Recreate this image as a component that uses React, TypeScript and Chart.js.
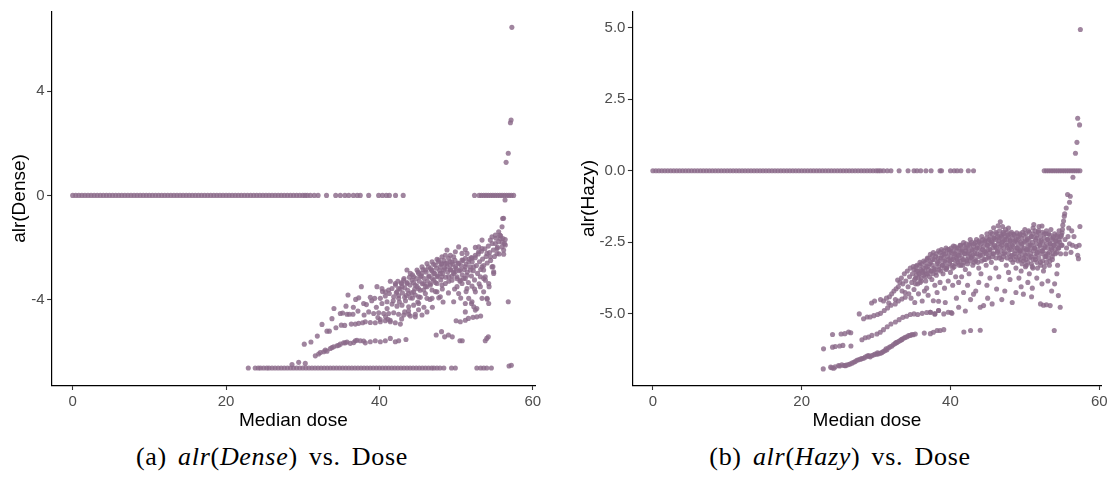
import React, { useEffect, useRef } from "react";
import { Chart, registerables } from "chart.js";
Chart.register(...registerables);

// ---------- tick labels ----------
const X_TICKS = [0, 20, 40, 60];
const DENSE_Y_TICKS = [-4, 0, 4];
const HAZY_Y_TICKS = [-5, -2.5, 0, 2.5, 5];

// ---------- (a) alr(Dense) ----------
const denseZeroDose = [
  0, 0.4, 0.8, 1.2, 1.6, 2, 2.4, 2.8, 3.2, 3.6, 4, 4.4, 4.8, 5.2, 5.6, 6, 6.4, 6.8, 7.2, 7.6,
  8, 8.4, 8.8, 9.2, 9.6, 10, 10.4, 10.8, 11.2, 11.6, 12, 12.4, 12.8, 13.2, 13.6, 14, 14.4, 14.8,
  15.2, 15.6, 16, 16.4, 16.8, 17.2, 17.6, 18, 18.4, 18.8, 19.2, 19.6, 20, 20.4, 20.8, 21.2, 21.6,
  22, 22.4, 22.8, 23.2, 23.6, 24, 24.4, 24.8, 25.2, 25.6, 26, 26.4, 26.8, 27.2, 27.6, 28, 28.4,
  28.8, 29.2, 29.6, 30, 30.3, 30.6, 31.0, 31.5, 32.0, 33.1, 34.3, 34.9, 35.5, 36.0, 36.6, 37.1,
  37.5, 38.6, 39.9, 40.4, 40.9, 41.3, 42.1, 43.1, 52.4, 53.0, 53.3, 53.6, 53.9, 54.2, 54.5, 54.8,
  55.1, 55.4, 55.7, 56.0, 56.3, 56.6, 56.9, 57.2, 57.5,
];
const DENSE_FLOOR = -6.64;
const denseFloorDose = [
  22.9, 23.8, 24.2, 24.5, 24.9, 25.3, 25.6, 26.0, 26.4, 26.8, 27.2, 27.6, 28, 28.4, 28.8, 29.2,
  29.6, 30, 30.4, 30.8, 31.2, 31.6, 32, 32.4, 32.8, 33.2, 33.6, 34, 34.4, 34.8, 35.2, 35.6, 36,
  36.4, 36.8, 37.2, 37.6, 38, 38.4, 38.8, 39.2, 39.6, 40, 40.4, 40.8, 41.2, 41.6, 42, 42.4, 42.8,
  43.2, 43.6, 44, 44.4, 44.8, 45.2, 45.6, 46, 46.4, 46.8, 47.1, 47.5, 47.9, 48.4, 49.4, 49.9,
  52.7, 53.2, 53.6, 54.0, 54.6,
];
const denseCloud: [number, number][] = [
  [37.64, -3.51], [35.9, -3.83], [37.3, -3.94], [37.94, -4.16], [34.07, -4.35], [35.64, -4.26],
  [34.9, -4.54], [35.77, -4.57], [36.07, -4.57], [36.55, -4.57], [33.81, -4.74], [32.51, -4.96],
  [33.16, -5.22], [33.47, -5.22], [34.33, -5.09], [35.03, -4.99], [35.47, -5.0], [36.33, -4.95],
  [36.86, -4.95], [37.29, -4.92], [37.81, -4.9], [31.9, -5.41], [30.2, -5.72], [31.07, -5.64],
  [31.64, -6.17], [32.07, -6.1], [32.29, -6.04], [32.73, -6.01], [32.94, -5.95], [33.16, -5.99],
  [33.6, -5.89], [33.81, -5.85], [34.03, -5.82], [34.47, -5.78], [34.68, -5.76], [34.9, -5.72],
  [35.33, -5.67], [35.55, -5.67], [35.77, -5.64], [36.2, -5.69], [36.64, -5.66], [36.86, -5.59],
  [37.07, -5.57], [37.51, -5.59], [37.94, -5.6],
  [28.6, -6.5], [29.47, -6.42], [30.33, -6.46], [56.9, -6.56], [57.2, -6.53],
  [38.16, -5.67], [38.81, -5.63], [39.46, -5.59], [40.12, -5.63], [40.77, -5.59], [41.42, -5.5],
  [42.07, -5.63], [42.51, -5.59], [43.46, -5.54], [47.4, -5.37], [48.1, -5.24], [48.5, -5.44],
  [49.0, -5.37], [49.5, -5.44], [50.5, -5.59], [50.8, -5.59], [53.8, -5.59], [54.2, -5.44],
  [54.0, -5.5],
  [38.16, -4.86], [38.81, -4.89], [39.46, -4.9], [40.12, -4.86], [40.77, -4.82], [41.42, -4.86],
  [42.07, -4.9], [42.73, -4.95], [41.1, -4.76], [40.8, -4.67], [41.4, -4.8], [40.1, -4.77],
  [38.6, -4.48], [39.25, -4.54], [39.9, -4.51], [40.55, -4.54], [41.2, -4.54], [41.86, -4.51],
  [42.5, -4.57], [43.16, -4.6], [44.03, -4.64], [44.68, -4.57],
  [50.0, -4.82], [50.55, -4.86], [51.2, -4.8], [51.6, -4.73], [52.2, -4.69], [52.7, -4.67],
  [53.2, -4.64], [51.2, -4.48], [52.0, -4.16], [52.3, -4.28], [52.7, -4.35],
  [39.68, -3.51], [41.42, -3.3], [42.86, -3.36],
  [38.81, -3.92], [39.38, -3.96], [40.12, -3.96], [40.77, -3.87], [41.29, -3.77], [41.86, -3.9],
  [42.51, -3.96], [43.29, -3.92], [44.03, -3.94], [44.68, -3.83], [45.33, -3.92], [46.2, -3.96],
  [46.86, -3.96], [47.73, -3.94],
  [40.33, -4.16], [40.99, -4.09], [41.64, -4.18], [42.29, -4.26], [42.94, -4.22], [43.81, -4.28],
  [44.46, -4.22], [45.12, -4.16], [46.2, -4.48], [45.55, -4.6], [44.68, -4.67], [43.81, -4.57],
  [43.29, -4.48],
  [42.94, -3.51], [43.59, -3.39], [44.25, -3.26], [44.68, -3.45], [45.12, -3.58], [45.77, -3.64],
  [46.2, -3.51], [46.64, -3.39], [47.07, -3.26], [47.51, -3.13], [47.94, -3.0], [48.38, -2.87],
  [48.81, -2.75], [49.25, -2.87], [49.68, -3.0], [50.12, -3.13], [50.55, -3.26], [50.99, -3.19],
  [51.42, -3.07], [51.86, -2.87], [52.29, -2.75], [43.81, -3.77], [44.46, -3.71], [45.12, -3.9],
  [45.77, -3.39], [46.42, -3.13], [46.86, -2.87], [47.29, -2.68], [47.73, -2.49], [48.16, -2.36],
  [48.6, -2.3], [49.03, -2.42], [49.46, -2.55], [49.9, -2.75], [50.33, -2.62], [50.77, -2.49],
  [51.2, -2.42], [51.64, -2.55], [52.07, -2.42], [52.51, -2.3], [52.94, -2.17], [53.38, -2.04],
  [48.6, -2.62], [49.25, -2.68], [48.16, -3.13], [47.51, -3.39], [46.86, -3.64], [45.99, -3.77],
  [45.33, -3.13], [44.9, -2.87], [45.55, -2.75], [46.2, -2.62], [46.86, -2.55], [47.51, -2.46],
  [48.16, -2.62], [49.68, -2.36], [50.55, -2.87], [51.2, -2.75], [50.12, -3.51], [50.77, -3.39],
  [51.42, -3.58], [52.07, -3.49], [52.51, -3.71], [53.16, -3.51], [53.38, -2.75], [53.59, -2.87],
  [53.16, -3.13], [53.81, -3.26], [54.25, -3.39], [54.68, -2.75], [54.9, -3.0], [54.46, -2.36],
  [54.03, -2.23], [55.12, -1.85], [55.33, -2.04], [55.55, -1.78], [54.68, -1.59], [54.46, -1.72],
  [55.12, -1.53], [55.55, -1.4], [55.99, -1.21], [56.07, -0.89], [55.77, -1.66], [55.33, -2.23],
  [55.99, -1.98], [56.42, -1.91], [53.38, -1.72], [52.94, -1.98], [52.51, -2.0], [51.99, -2.39],
  [51.42, -2.23], [48.81, -2.1], [49.9, -2.17], [49.25, -2.3], [50.77, -2.23], [50.33, -1.98],
  [51.2, -2.08], [47.94, -2.75], [47.07, -3.0], [46.64, -2.81], [45.99, -2.87], [45.55, -3.0],
  [45.12, -3.0], [44.46, -3.13], [44.03, -3.0], [43.59, -2.87], [43.16, -3.26], [42.51, -3.58],
  [42.07, -3.39], [42.29, -3.71], [41.64, -3.58], [41.2, -3.64], [40.77, -3.71], [40.33, -3.58],
  [48.6, -3.39], [49.46, -3.26], [49.9, -2.94], [49.03, -3.13], [48.16, -3.45], [47.94, -3.9],
  [47.51, -3.71], [50.33, -3.77], [49.68, -4.09], [51.2, -4.16], [51.64, -3.96], [52.07, -4.09],
  [52.51, -4.41], [53.38, -3.96], [53.59, -3.71], [54.03, -3.96], [54.25, -4.16],
  [56.8, -4.09], [54.8, -2.74], [54.9, -2.94], [54.05, -3.99], [54.3, -3.51], [53.8, -3.13],
  [56.2, -2.26], [56.3, -1.85], [56.1, -1.66], [55.7, -1.53],
  [57.27, 6.46], [57.08, 2.79], [57.17, 2.9], [56.8, 1.62], [56.52, 1.27], [56.38, -0.18], [56.19, -0.88],
];
const denseCore: [number, number][] = [
  [42.1, -3.45], [42.2, -3.75], [42.4, -3.3], [42.5, -3.85], [42.7, -3.6], [42.9, -3.4],
  [43.0, -3.75], [43.2, -3.2], [43.3, -3.55], [43.5, -3.85], [43.6, -3.35], [43.7, -3.65],
  [43.9, -3.15], [44.0, -3.45], [44.2, -3.75], [44.3, -3.05], [44.45, -3.35], [44.6, -3.6],
  [44.8, -3.2], [44.9, -3.5], [45.05, -2.95], [45.2, -3.3], [45.3, -3.65], [45.45, -3.1],
  [45.6, -3.4], [45.7, -2.85], [45.85, -3.2], [46.0, -3.5], [46.1, -2.95], [46.25, -3.3],
  [46.4, -2.75], [46.5, -3.1], [46.65, -3.45], [46.8, -2.9], [46.9, -3.2], [47.05, -2.65],
  [47.2, -3.0], [47.3, -3.35], [47.45, -2.8], [47.6, -3.1], [47.7, -2.55], [47.85, -2.9],
  [48.0, -3.25], [48.1, -2.65], [48.25, -3.0], [48.4, -2.5], [48.5, -2.8], [48.65, -3.15],
  [48.8, -2.6], [48.9, -2.95], [49.05, -3.3], [49.2, -2.55], [49.3, -2.85], [49.45, -3.1],
  [49.6, -2.65], [49.7, -2.95], [49.85, -2.5], [50.0, -2.8], [50.1, -3.2], [50.25, -2.6],
  [50.4, -2.9], [50.5, -3.3], [50.65, -2.7], [50.8, -3.05], [50.9, -2.5], [51.05, -2.85],
  [51.2, -3.2], [51.3, -2.65], [51.45, -2.95], [51.6, -3.35], [51.7, -2.45], [51.85, -2.75],
  [52.0, -3.1], [52.1, -2.55], [52.25, -2.9], [52.4, -3.25], [52.5, -2.4], [52.65, -2.7],
  [52.8, -3.0], [52.9, -2.25], [53.05, -2.55], [53.2, -2.85], [53.3, -2.15], [53.45, -2.45],
  [53.6, -2.7], [53.75, -2.05], [53.9, -2.35], [54.05, -2.6], [54.2, -1.95], [54.35, -2.2],
  [54.5, -2.5], [54.7, -1.85], [54.85, -2.1], [55.0, -2.35], [55.2, -1.65], [55.4, -2.0],
  [55.6, -2.25], [55.8, -1.55], [56.0, -1.8], [56.2, -2.1], [56.4, -1.7],
  [38.3, -4.2], [39.0, -4.05], [39.6, -4.3], [40.4, -3.7], [41.0, -4.35], [41.8, -4.05],
  [42.6, -4.1], [43.4, -4.05], [44.3, -3.95], [45.0, -4.1], [45.8, -4.3], [46.6, -4.0],
  [47.3, -3.7], [48.2, -3.6], [49.0, -3.75], [49.8, -3.6], [50.6, -3.95], [51.3, -3.7],
  [52.4, -3.6], [53.0, -3.4], [53.6, -3.2], [36.6, -4.3], [37.2, -4.45], [38.0, -4.6],
  [36.9, -4.0], [35.2, -4.52], [39.8, -4.7], [42.9, -4.75], [43.8, -4.45], [45.1, -4.4],
  [46.9, -4.3], [48.3, -4.1],
];

// ---------- (b) alr(Hazy) ----------
const hazyZeroDose = [
  0, 0.4, 0.8, 1.2, 1.6, 2, 2.4, 2.8, 3.2, 3.6, 4, 4.4, 4.8, 5.2, 5.6, 6, 6.4, 6.8, 7.2, 7.6,
  8, 8.4, 8.8, 9.2, 9.6, 10, 10.4, 10.8, 11.2, 11.6, 12, 12.4, 12.8, 13.2, 13.6, 14, 14.4, 14.8,
  15.2, 15.6, 16, 16.4, 16.8, 17.2, 17.6, 18, 18.4, 18.8, 19.2, 19.6, 20, 20.4, 20.8, 21.2, 21.6,
  22, 22.4, 22.8, 23.2, 23.6, 24, 24.4, 24.8, 25.2, 25.6, 26, 26.4, 26.8, 27.2, 27.6, 28, 28.4,
  28.8, 29.2, 29.6, 30, 30.3, 30.6, 31.0, 31.5, 32.0, 33.1, 34.3, 35.1, 35.5, 36.0, 36.7, 37.4,
  38.6, 38.8, 40.0, 40.5, 40.9, 41.4, 42.4, 43.1, 52.6, 52.9, 53.2, 53.5, 53.8, 54.1, 54.4, 54.7,
  55.0, 55.3, 55.6, 55.9, 56.2, 56.5, 56.8, 57.1, 57.4,
];
const hazyCloud: [number, number][] = [
  // lowest band
  [22.9, -6.92], [23.9, -6.86], [24.06, -6.88], [24.3, -6.9], [24.5, -6.85], [24.96, -6.8],
  [25.1, -6.82], [25.4, -6.78], [25.7, -6.8], [25.86, -6.81], [26.0, -6.79], [26.3, -6.77],
  [26.5, -6.75], [26.75, -6.72], [27.0, -6.69], [27.2, -6.66], [27.42, -6.62], [27.65, -6.6],
  [27.9, -6.58], [28.1, -6.56], [28.32, -6.55], [28.54, -6.51], [28.8, -6.47], [28.99, -6.48],
  [29.0, -6.45], [29.22, -6.5], [29.44, -6.45], [29.7, -6.43], [29.89, -6.4], [30.11, -6.41],
  [30.2, -6.36], [30.34, -6.39], [30.6, -6.37], [30.79, -6.35], [31.0, -6.31], [31.23, -6.28],
  [31.35, -6.22], [31.46, -6.25], [31.68, -6.18], [31.9, -6.15], [32.13, -6.12], [32.35, -6.07],
  [32.58, -6.03], [32.7, -6.0], [32.8, -6.0], [33.03, -5.96], [33.25, -5.93], [33.4, -5.9],
  [33.47, -5.89], [33.7, -5.85], [33.92, -5.82], [34.15, -5.8], [34.37, -5.76], [34.6, -5.75],
  [34.82, -5.72], [35.0, -5.73], [35.27, -5.7], [36.48, -5.67], [37.3, -5.69], [37.7, -5.64],
  [38.2, -5.58], [38.6, -5.58], [39.1, -5.55], [41.8, -5.63], [42.7, -5.58], [44.0, -5.57],
  [53.95, -5.58],
  // second band
  [22.94, -6.22], [24.15, -6.16], [24.51, -6.14], [25.1, -6.12], [25.54, -6.1], [26.62, -6.12],
  [28.1, -5.9], [28.54, -5.83], [28.99, -5.81], [29.44, -5.75], [30.11, -5.7], [30.56, -5.64],
  [31.0, -5.55], [31.5, -5.45], [32.0, -5.35], [32.6, -5.28], [33.1, -5.2], [33.6, -5.12],
  [34.1, -5.08], [34.6, -5.02], [35.1, -5.0], [35.6, -5.02], [36.2, -4.98], [36.8, -4.95],
  [37.3, -4.94], [37.9, -5.0], [38.4, -4.88], [39.1, -5.0], [39.7, -4.94], [40.1, -4.95],
  [40.2, -4.98], [41.1, -4.77], [42.0, -4.9],
  // third band
  [24.15, -5.72], [25.3, -5.7], [25.8, -5.69], [26.3, -5.63], [26.6, -5.66], [27.74, -5.0],
  [28.32, -5.17], [28.8, -5.11], [29.2, -5.11], [29.7, -5.06], [30.2, -5.02], [30.6, -4.98],
  [31.1, -4.88], [31.55, -4.79], [32.0, -4.7], [32.58, -4.65], [33.0, -4.55], [33.47, -4.48],
  [33.92, -4.42], [34.4, -4.3],
  // main cloud
  [31.0, -4.55], [31.4, -4.45], [31.8, -4.4], [32.1, -4.3], [32.4, -4.2], [32.7, -4.12],
  [33.0, -4.05], [33.2, -3.9], [32.9, -3.82], [33.4, -3.75], [32.6, -4.5], [31.7, -4.62],
  [33.5, -4.2], [29.4, -4.62], [29.8, -4.55], [30.6, -4.5],
  [33.6, -3.95], [33.8, -3.6], [34.0, -3.85], [34.2, -3.5], [34.3, -4.05], [34.5, -3.7],
  [34.6, -3.4], [34.8, -3.9], [34.9, -3.6], [35.0, -3.35], [35.1, -4.15], [33.9, -4.25],
  [34.7, -4.45], [35.2, -4.6],
  [35.3, -3.75], [35.4, -3.5], [35.5, -3.3], [35.6, -3.95], [35.8, -3.6], [35.9, -3.2],
  [36.0, -3.45], [36.1, -3.85], [36.3, -3.55], [36.4, -3.15], [36.5, -4.2], [36.6, -3.7],
  [36.7, -3.35], [36.9, -3.05], [37.0, -3.6], [35.7, -4.3], [36.2, -4.55], [36.8, -4.1],
  [37.2, -3.25], [37.3, -2.92], [37.4, -3.5], [37.5, -3.8], [37.6, -3.1], [37.7, -2.86],
  [37.8, -3.4], [37.9, -4.0], [38.0, -3.0], [38.1, -3.65], [38.3, -3.2], [38.4, -2.8],
  [38.5, -3.45], [38.6, -3.9], [38.7, -3.05], [38.8, -2.75], [38.9, -3.3], [39.0, -3.6],
  [37.7, -4.54], [38.4, -4.56], [39.3, -4.6], [37.9, -5.0], [37.3, -4.94], [38.4, -4.88],
  [39.1, -2.9], [39.2, -3.15], [39.4, -2.7], [39.5, -3.4], [39.6, -3.0], [39.8, -2.75],
  [39.9, -3.25], [40.0, -3.55], [40.1, -2.85], [40.2, -3.1], [40.4, -2.63], [40.5, -3.35],
  [40.6, -2.9], [40.7, -3.7], [40.8, -3.05], [40.9, -2.7], [41.0, -3.2], [40.3, -4.0],
  [39.7, -3.85], [41.1, -3.9],
  [41.2, -2.95], [41.3, -2.6], [41.4, -3.3], [41.5, -2.8], [41.7, -3.1], [41.76, -2.51],
  [41.9, -2.9], [42.0, -3.45], [42.1, -2.7], [42.2, -3.15], [42.4, -2.85], [42.5, -3.6],
  [42.6, -2.55], [42.66, -2.4], [42.8, -3.0], [42.9, -2.75], [43.0, -3.3], [41.76, -4.25],
  [43.1, -4.31], [42.3, -4.0], [41.5, -3.7],
  [43.2, -2.55], [43.3, -2.9], [43.4, -3.15], [43.5, -2.4], [43.6, -2.7], [43.8, -3.4],
  [43.9, -2.5], [44.0, -2.95], [44.1, -3.6], [44.2, -2.3], [44.3, -2.75], [44.5, -3.1],
  [44.6, -2.45], [44.7, -2.85], [44.8, -3.3], [44.9, -2.2], [45.0, -2.6], [44.45, -4.71],
  [44.0, -4.77], [43.8, -3.9], [44.9, -4.0],
  [45.1, -3.0], [45.2, -2.4], [45.3, -2.75], [45.4, -2.15], [45.5, -3.2], [45.6, -2.5],
  [45.7, -2.9], [45.8, -1.99], [45.9, -2.35], [46.0, -2.65], [46.1, -3.4], [46.2, -2.2],
  [46.3, -2.8], [46.4, -1.92], [46.5, -2.45], [46.6, -3.05], [46.7, -1.78], [46.8, -2.3],
  [46.9, -2.6], [47.0, -1.95], [45.6, -4.65], [46.2, -4.13], [45.3, -3.75], [46.5, -3.7],
  [47.1, -2.15], [47.2, -2.9], [47.3, -2.4], [47.4, -2.05], [47.5, -3.3], [47.6, -2.6],
  [47.7, -2.25], [47.8, -2.0], [47.9, -2.75], [48.0, -2.45], [48.1, -3.1], [48.2, -2.15],
  [48.3, -2.6], [48.5, -2.22], [48.6, -2.9], [48.7, -2.45], [48.8, -3.4], [48.9, -2.17],
  [49.0, -2.7], [47.3, -4.2], [48.0, -3.8], [48.8, -4.25], [47.8, -3.55],
  [49.1, -2.4], [49.2, -3.0], [49.3, -2.25], [49.4, -2.8], [49.5, -3.5], [49.6, -2.55],
  [49.7, -2.15], [49.8, -3.15], [49.9, -2.7], [50.0, -2.05], [50.1, -2.95], [50.2, -3.3],
  [50.3, -2.4], [50.4, -2.75], [50.5, -2.1], [50.6, -3.6], [50.7, -2.6], [50.8, -3.0],
  [50.9, -2.3], [51.0, -3.35], [49.8, -4.31], [50.4, -3.9], [49.2, -3.75], [51.0, -4.1],
  [51.1, -2.0], [51.2, -1.88], [51.3, -2.7], [51.4, -3.1], [51.5, -2.35], [51.6, -2.9],
  [51.7, -3.4], [51.8, -2.15], [51.9, -1.95], [52.0, -2.6], [52.1, -3.2], [52.2, -2.45],
  [52.3, -1.93], [52.4, -2.8], [52.5, -3.5], [52.6, -2.2], [52.7, -2.65], [52.8, -3.0],
  [52.9, -2.1], [53.0, -2.4], [52.1, -4.65], [52.5, -4.7], [52.9, -4.68], [53.4, -4.71],
  [52.3, -3.95], [51.6, -3.75], [53.1, -3.85],
  [53.1, -2.9], [53.2, -2.2], [53.3, -3.3], [53.4, -2.55], [53.5, -2.05], [53.6, -2.75],
  [53.7, -3.1], [53.8, -2.35], [53.9, -2.6], [54.0, -2.2], [54.1, -2.9], [54.2, -2.45],
  [54.3, -3.6], [54.4, -2.3], [54.5, -2.7], [54.6, -2.1], [54.7, -2.5], [54.8, -2.9],
  [54.9, -2.25], [55.0, -2.6], [54.5, -4.36], [54.75, -4.77], [54.0, -3.95], [54.4, -3.3],
  [55.0, -2.17], [55.05, -2.05], [55.1, -1.9], [55.2, -1.76], [55.3, -1.59], [55.35, -1.5],
  [55.56, -1.3], [56.0, -1.1], [55.74, -0.83], [56.1, -0.89], [56.46, -0.23],
  [55.4, -2.4], [55.6, -2.7], [55.8, -2.3], [56.0, -2.55], [56.2, -2.85], [56.4, -2.6],
  [56.6, -2.3], [56.9, -2.65], [57.4, -1.95], [57.3, -2.6], [57.1, -2.95], [57.2, -3.07],
  [55.9, -2.0], [56.3, -2.1], [55.5, -2.9],
  [57.46, 4.93], [57.1, 1.83], [57.35, 1.6], [57.0, 0.99], [56.8, 0.61],
];
const hazyCore: [number, number][] = [
  [35.1, -3.45], [35.18, -3.8], [35.35, -3.35], [35.42, -3.65], [35.3, -3.95], [35.6, -3.5],
  [35.68, -3.75], [35.85, -3.3], [35.8, -3.6], [35.92, -3.9], [36.1, -3.25], [36.18, -3.5],
  [36.05, -3.75], [36.35, -3.4], [36.42, -3.65], [36.6, -3.2], [36.55, -3.5], [36.68, -3.85],
  [36.85, -3.1], [36.92, -3.35], [36.8, -3.6], [37.1, -3.05], [37.05, -3.45], [37.18, -3.7],
  [37.35, -3.2], [37.42, -3.5], [37.6, -2.95], [37.55, -3.3], [37.68, -3.6], [37.85, -3.1],
  [37.92, -3.45], [38.1, -2.9], [38.18, -3.25], [38.05, -3.55], [38.35, -3.05], [38.42, -3.35],
  [38.6, -2.85], [38.55, -3.15], [38.68, -3.5], [38.85, -2.95], [38.92, -3.3], [39.1, -2.8],
  [39.05, -3.05], [39.18, -3.4], [39.35, -2.9], [39.3, -3.2], [39.42, -3.45], [39.6, -2.75],
  [39.68, -3.1], [39.55, -3.35], [39.85, -2.85], [39.92, -3.15], [40.1, -2.7], [40.05, -3.0],
  [40.18, -3.3], [40.35, -2.8], [40.42, -3.1], [40.3, -3.4], [40.6, -2.65], [40.55, -2.95],
  [40.68, -3.25], [40.85, -2.8], [40.92, -3.1], [41.1, -2.7], [41.05, -2.95], [41.18, -3.3],
  [41.35, -2.6], [41.42, -2.85], [41.3, -3.15], [41.6, -2.75], [41.55, -3.05], [41.68, -3.3],
  [41.85, -2.6], [41.92, -2.9], [41.8, -3.2], [42.1, -2.55], [42.05, -2.8], [42.18, -3.1],
  [42.35, -2.7], [42.42, -3.0], [42.3, -3.25], [42.6, -2.6], [42.55, -2.9], [42.68, -3.15],
  [42.85, -2.5], [42.92, -2.8], [42.8, -3.05], [43.1, -2.65], [43.05, -2.95], [43.18, -3.2],
  [43.35, -2.5], [43.42, -2.75], [43.3, -3.1], [43.6, -2.6], [43.55, -2.9], [43.68, -3.2],
  [43.85, -2.45], [43.92, -2.7], [43.8, -3.0], [44.1, -2.55], [44.05, -2.85], [44.18, -3.15],
  [44.35, -2.4], [44.42, -2.65], [44.3, -2.95], [44.6, -2.5], [44.55, -2.8], [44.68, -3.1],
  [44.85, -2.35], [44.92, -2.6], [44.8, -2.9], [45.1, -2.45], [45.05, -2.75], [45.18, -3.05],
  [45.35, -2.3], [45.42, -2.55], [45.3, -2.85], [45.6, -2.2], [45.55, -2.45], [45.68, -2.7],
  [45.62, -3.0], [45.85, -2.35], [45.92, -2.6], [45.8, -2.9], [46.1, -2.15], [46.05, -2.4],
  [46.18, -2.7], [46.12, -3.05], [46.35, -2.3], [46.42, -2.55], [46.3, -2.85], [46.6, -2.1],
  [46.55, -2.35], [46.68, -2.65], [46.62, -2.95], [46.85, -2.25], [46.92, -2.5], [46.8, -2.8],
  [46.88, -3.1], [47.1, -2.2], [47.05, -2.45], [47.18, -2.7], [47.12, -3.0], [47.35, -2.3],
  [47.42, -2.55], [47.3, -2.85], [47.6, -2.15], [47.55, -2.4], [47.68, -2.7], [47.62, -3.05],
  [47.85, -2.3], [47.92, -2.6], [47.8, -2.9], [48.1, -2.2], [48.05, -2.45], [48.18, -2.75],
  [48.12, -3.0], [48.35, -2.35], [48.42, -2.65], [48.3, -2.95], [48.38, -3.2], [48.6, -2.25],
  [48.55, -2.5], [48.68, -2.8], [48.62, -3.1], [48.85, -2.4], [48.92, -2.7], [48.8, -3.0],
  [49.1, -2.3], [49.05, -2.55], [49.18, -2.85], [49.12, -3.15], [49.35, -2.2], [49.42, -2.5],
  [49.3, -2.8], [49.38, -3.1], [49.6, -2.35], [49.55, -2.65], [49.68, -2.95], [49.62, -3.25],
  [49.85, -2.25], [49.92, -2.5], [49.8, -2.8], [49.88, -3.05], [50.1, -2.2], [50.05, -2.45],
  [50.18, -2.75], [50.12, -3.1], [50.08, -3.35], [50.35, -2.35], [50.42, -2.6], [50.3, -2.9],
  [50.38, -3.2], [50.6, -2.15], [50.55, -2.45], [50.68, -2.75], [50.62, -3.05], [50.85, -2.3],
  [50.92, -2.6], [50.8, -2.9], [50.88, -3.25], [51.1, -2.2], [51.05, -2.5], [51.18, -2.8],
  [51.12, -3.1], [51.08, -3.4], [51.35, -2.1], [51.42, -2.4], [51.3, -2.7], [51.38, -3.0],
  [51.6, -2.25], [51.55, -2.55], [51.68, -2.85], [51.62, -3.2], [51.85, -2.1], [51.92, -2.45],
  [51.8, -2.75], [51.88, -3.05], [52.1, -2.3], [52.05, -2.6], [52.18, -2.9], [52.12, -3.3],
  [52.35, -2.15], [52.42, -2.5], [52.3, -2.8], [52.38, -3.15], [52.6, -2.35], [52.55, -2.7],
  [52.68, -3.0], [52.62, -3.35], [52.85, -2.2], [52.92, -2.55], [52.8, -2.9], [52.88, -3.2],
  [53.1, -2.4], [53.05, -2.7], [53.18, -3.05], [53.35, -2.25], [53.42, -2.55], [53.3, -2.85],
  [53.38, -3.15], [53.6, -2.4], [53.55, -2.7], [53.68, -3.0], [53.85, -2.3], [53.92, -2.6],
  [53.8, -2.9], [54.1, -2.45], [54.05, -2.75], [54.35, -2.25], [54.42, -2.55], [54.3, -2.85],
  [54.6, -2.4], [54.55, -2.7], [54.85, -2.3], [54.92, -2.6],
  [37.0, -4.35], [38.2, -4.25], [39.2, -4.1], [40.8, -4.45], [42.7, -4.5], [43.4, -4.2],
  [45.0, -4.45], [46.9, -4.5], [48.3, -4.6], [50.9, -4.4], [53.6, -4.2], [49.5, -4.05],
];

// ---------- styling ----------
const SANS = "'Liberation Sans', Arial, sans-serif";
const POINT_COLOR = "rgba(139,106,138,0.82)";

type PanelCfg = {
  points: { x: number; y: number }[];
  yTicks: number[];
  yFmt: (v: number) => string;
  yTitle: string;
  yMin: number;
  yMax: number;
  yAxisWidth: number;
  yTitlePad: number;
  padRight: number;
};

function Panel({ cfg, width, left }: { cfg: PanelCfg; width: number; left: number }) {
  const ref = useRef<HTMLCanvasElement | null>(null);
  useEffect(() => {
    if (!ref.current) return;
    const chart = new Chart(ref.current, {
      type: "scatter",
      data: {
        datasets: [
          {
            data: cfg.points,
            pointRadius: 2.55,
            pointHoverRadius: 0,
            pointBorderWidth: 0,
            pointBackgroundColor: POINT_COLOR,
            borderColor: POINT_COLOR,
          },
        ],
      },
      options: {
        animation: false,
        responsive: false,
        maintainAspectRatio: false,
        events: [],
        layout: { padding: { left: 0, top: 11, right: cfg.padRight, bottom: 0 } },
        plugins: { legend: { display: false }, tooltip: { enabled: false } },
        scales: {
          x: {
            type: "linear",
            min: -2.75,
            max: 60.3,
            afterBuildTicks: (s: any) => {
              s.ticks = X_TICKS.map((v) => ({ value: v }));
            },
            afterFit: (s: any) => {
              s.height = 54.5;
            },
            grid: { drawOnChartArea: false, drawTicks: true, tickLength: 4.5, tickColor: "#333", tickWidth: 1.1 },
            border: { display: true, color: "#000", width: 1.2 },
            ticks: {
              color: "#4d4d4d",
              font: { family: SANS, size: 15 },
              padding: 3,
              maxRotation: 0,
              autoSkip: false,
              callback: (v: any) => String(v),
            },
            title: {
              display: true,
              text: "Median dose",
              color: "#000",
              font: { family: SANS, size: 19 },
              padding: { top: 0, bottom: 7.5 },
            },
          },
          y: {
            type: "linear",
            min: cfg.yMin,
            max: cfg.yMax,
            afterBuildTicks: (s: any) => {
              s.ticks = cfg.yTicks.map((v) => ({ value: v }));
            },
            afterFit: (s: any) => {
              s.width = cfg.yAxisWidth;
            },
            grid: { drawOnChartArea: false, drawTicks: true, tickLength: 4.5, tickColor: "#333", tickWidth: 1.1 },
            border: { display: true, color: "#000", width: 1.2 },
            ticks: {
              color: "#4d4d4d",
              font: { family: SANS, size: 15 },
              padding: 2.5,
              autoSkip: false,
              callback: (v: any) => cfg.yFmt(Number(v)),
            },
            title: {
              display: true,
              text: cfg.yTitle,
              color: "#000",
              font: { family: SANS, size: 19 },
              padding: { top: cfg.yTitlePad, bottom: 0 },
            },
          },
        },
      } as any,
    });
    return () => chart.destroy();
  }, []);
  return (
    <canvas
      ref={ref}
      width={width}
      height={440}
      style={{ position: "absolute", left, top: 0, width, height: 440 }}
    />
  );
}

const densePoints = [
  ...denseZeroDose.map((x) => ({ x, y: 0 })),
  ...denseFloorDose.map((x) => ({ x, y: DENSE_FLOOR })),
  ...denseCloud.map(([x, y]) => ({ x, y })),
  ...denseCore.map(([x, y]) => ({ x, y })),
];
const hazyPoints = [
  ...hazyZeroDose.map((x) => ({ x, y: 0 })),
  ...hazyCloud.map(([x, y]) => ({ x, y })),
  ...hazyCore.map(([x, y]) => ({ x, y })),
];

const denseCfg: PanelCfg = {
  points: densePoints,
  yTicks: DENSE_Y_TICKS,
  yFmt: (v) => String(v),
  yTitle: "alr(Dense)",
  yMin: -7.31,
  yMax: 7.07,
  yAxisWidth: 51.6,
  yTitlePad: 8.6,
  padRight: 24.9,
};
const hazyCfg: PanelCfg = {
  points: hazyPoints,
  yTicks: HAZY_Y_TICKS,
  yFmt: (v) => v.toFixed(1),
  yTitle: "alr(Hazy)",
  yMin: -7.5,
  yMax: 5.56,
  yAxisWidth: 72.4,
  yTitlePad: 17.2,
  padRight: 12.5,
};

const captionStyle: React.CSSProperties = {
  position: "absolute",
  top: 442,
  width: 420,
  textAlign: "center",
  fontFamily: "'Liberation Serif', 'Times New Roman', serif",
  fontSize: 26,
  lineHeight: "30px",
  letterSpacing: "0.7px",
  wordSpacing: "4px",
  color: "#000",
  whiteSpace: "nowrap",
};

export default function App() {
  return (
    <div style={{ position: "absolute", left: 0, top: 0, width: 1114, height: 477, background: "#fff", overflow: "hidden" }}>
      <Panel cfg={denseCfg} width={560} left={0} />
      <Panel cfg={hazyCfg} width={554} left={560} />
      <div style={{ ...captionStyle, left: 272 - 210 }}>
        (a) <i>alr</i>(<i>Dense</i>) vs. Dose
      </div>
      <div style={{ ...captionStyle, left: 840 - 210 }}>
        (b) <i>alr</i>(<i>Hazy</i>) vs. Dose
      </div>
    </div>
  );
}
